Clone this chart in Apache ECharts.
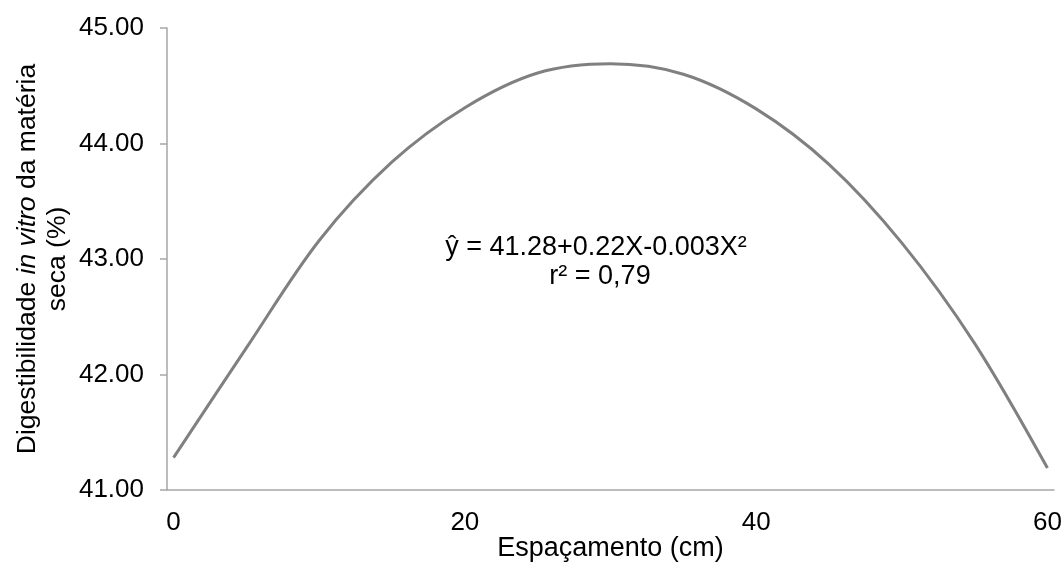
<!DOCTYPE html>
<html>
<head>
<meta charset="utf-8">
<title>Digestibilidade in vitro</title>
<script src="https://cdn.jsdelivr.net/npm/echarts@6/dist/echarts.min.js"></script>
<style>
  html, body { margin: 0; padding: 0; background: #fff; }
  #chart1 { width: 1064px; height: 568px; }
</style>
</head>
<body>
<div id="chart1"></div>
<script>
// values
var espacamento = [0, 5, 10, 15, 20, 25, 30, 35, 40, 45, 50, 55, 60];
var digestibilidade = [41.28, 42.23, 43.16, 43.84, 44.31, 44.61, 44.69, 44.60, 44.30, 43.82, 43.14, 42.27, 41.19];
var xTicks = [0, 20, 40, 60];
var equacao = 'ŷ = 41.28+0.22X-0.003X²';
var r2 = 'r² = 0,79';

var font = '"Liberation Sans", Arial, sans-serif';
var chart = echarts.init(document.getElementById('chart1'), null, { renderer: 'canvas' });

var points = espacamento.map(function (x, i) { return [x, digestibilidade[i]]; });

chart.setOption({
  animation: false,
  backgroundColor: '#fff',
  grid: {
    left: 167,
    right: 10,
    top: 28,
    bottom: 78,
    outerBoundsMode: 'none'
  },
  xAxis: {
    type: 'value',
    min: -0.45,
    max: 60.45,
    name: 'Espaçamento (cm)',
    nameLocation: 'middle',
    nameGap: 45,
    nameMoveOverlap: false,
    nameTextStyle: { fontFamily: font, fontSize: 27, color: '#000' },
    axisLine: { onZero: false, lineStyle: { color: '#a6a6a6', width: 1.5 } },
    axisTick: { show: false },
    splitLine: { show: false },
    axisLabel: {
      customValues: xTicks,
      margin: 20,
      fontFamily: font,
      fontSize: 26,
      color: '#000'
    }
  },
  yAxis: {
    type: 'value',
    min: 41,
    max: 45,
    interval: 1,
    name: '{n|Digestibilidade }{i|in vitro}{n| da matéria}\n{n|seca (%)}',
    nameLocation: 'middle',
    nameRotate: 90,
    nameGap: 94,
    nameMoveOverlap: false,
    nameTextStyle: {
      fontFamily: font,
      fontSize: 26.5,
      color: '#000',
      lineHeight: 30,
      rich: {
        n: { fontFamily: font, fontSize: 26.5, color: '#000', lineHeight: 30 },
        i: { fontFamily: font, fontSize: 26.5, color: '#000', fontStyle: 'italic', lineHeight: 30 }
      }
    },
    axisLine: { show: true, onZero: false, lineStyle: { color: '#a6a6a6', width: 1.5 } },
    axisTick: { show: true, inside: false, length: 7, lineStyle: { color: '#a6a6a6', width: 1.5 } },
    splitLine: { show: false },
    axisLabel: {
      margin: 23,
      fontFamily: font,
      fontSize: 26,
      color: '#000',
      formatter: function (v) { return v.toFixed(2); }
    }
  },
  graphic: [
    {
      type: 'text',
      x: 596,
      y: 248,
      style: {
        text: equacao,
        align: 'center',
        verticalAlign: 'middle',
        font: '27px ' + font,
        fill: '#000'
      }
    },
    {
      type: 'text',
      x: 600,
      y: 277,
      style: {
        text: r2,
        align: 'center',
        verticalAlign: 'middle',
        font: '27px ' + font,
        fill: '#000'
      }
    }
  ],
  series: [{
    name: 'Digestibilidade',
    type: 'line',
    data: points,
    smooth: 0.33,
    showSymbol: false,
    lineStyle: { color: '#808080', width: 3 },
    itemStyle: { color: '#808080' }
  }]
});
</script>
</body>
</html>
